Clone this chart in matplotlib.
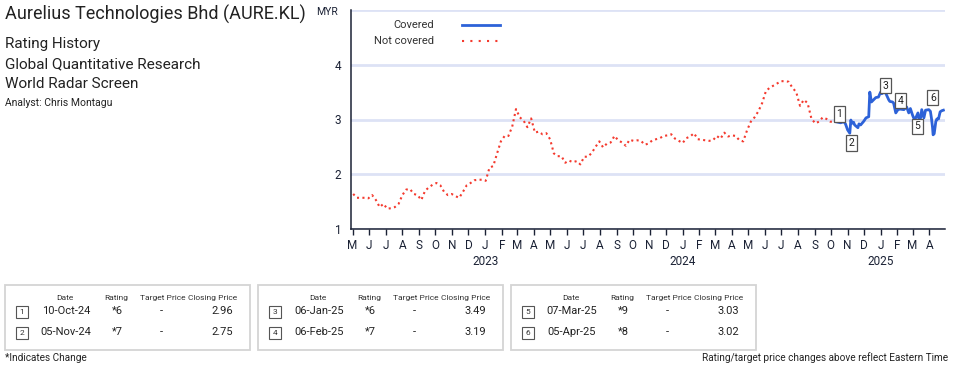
import matplotlib
matplotlib.use("Agg")
import matplotlib.pyplot as plt
from matplotlib.lines import Line2D
from matplotlib.patches import Rectangle
import pandas as pd

# weekly closes, not covered period (from 2022-05-02)
uncovered_start = "2022-05-02"
uncovered_close = [
    1.64, 1.57, 1.57, 1.57, 1.56, 1.62, 1.53, 1.40, 1.46, 1.37,
    1.38, 1.40, 1.46, 1.62, 1.72, 1.73, 1.64, 1.62, 1.53, 1.70,
    1.76, 1.81, 1.84, 1.80, 1.68, 1.62, 1.64, 1.60, 1.57, 1.68,
    1.80, 1.84, 1.89, 1.90, 1.90, 1.88, 2.12, 2.15, 2.38, 2.60,
    2.70, 2.70, 2.87, 3.19, 3.04, 2.98, 2.86, 3.02, 2.76, 2.78,
    2.73, 2.75, 2.64, 2.38, 2.33, 2.33, 2.21, 2.25, 2.22, 2.24,
    2.18, 2.32, 2.32, 2.39, 2.50, 2.60, 2.49, 2.56, 2.58, 2.70,
    2.62, 2.58, 2.52, 2.63, 2.61, 2.62, 2.61, 2.54, 2.56, 2.62,
    2.64, 2.66, 2.70, 2.71, 2.73, 2.65, 2.61, 2.57, 2.66, 2.69,
    2.75, 2.64, 2.63, 2.62, 2.61, 2.62, 2.70, 2.65, 2.76, 2.69,
    2.71, 2.70, 2.62, 2.60, 2.80, 2.96, 3.04, 3.15, 3.30, 3.52,
    3.58, 3.62, 3.66, 3.70, 3.70, 3.69, 3.58, 3.50, 3.25, 3.36,
    3.30, 3.02, 2.93, 2.96, 3.04, 3.01, 2.96,
]

# covered period
covered_dates = [
    "2024-10-10", "2024-10-19", "2024-10-25", "2024-10-28", "2024-11-01",
    "2024-11-05", "2024-11-07", "2024-11-09", "2024-11-12", "2024-11-14",
    "2024-11-20", "2024-11-22", "2024-11-25", "2024-12-01", "2024-12-05",
    "2024-12-10", "2024-12-12", "2024-12-15", "2024-12-19", "2024-12-23",
    "2024-12-28", "2025-01-01", "2025-01-03", "2025-01-06", "2025-01-10",
    "2025-01-16", "2025-01-18", "2025-01-23", "2025-01-25", "2025-01-29",
    "2025-02-02", "2025-02-06", "2025-02-13", "2025-02-18", "2025-02-22",
    "2025-02-25", "2025-03-01", "2025-03-03", "2025-03-07", "2025-03-11",
    "2025-03-13", "2025-03-16", "2025-03-18", "2025-03-22", "2025-03-25",
    "2025-03-31", "2025-04-03", "2025-04-05", "2025-04-07", "2025-04-08",
    "2025-04-10", "2025-04-13", "2025-04-15", "2025-04-18", "2025-04-21",
    "2025-04-24", "2025-04-27",
]
covered_close = [
    2.96, 2.94, 2.96, 2.92, 2.81,
    2.75, 2.99, 2.93, 2.95, 2.90,
    2.85, 2.92, 2.90, 2.97, 3.03,
    3.05, 3.50, 3.32, 3.36, 3.40,
    3.41, 3.50, 3.47, 3.49, 3.49,
    3.36, 3.33, 3.32, 3.30, 3.12,
    3.18, 3.19, 3.18, 3.23, 3.12,
    3.20, 3.08, 3.03, 3.03, 3.12,
    3.00, 3.03, 3.18, 3.03, 3.17,
    3.18, 3.15, 3.02, 2.85, 2.72,
    2.74, 2.96, 3.01, 3.01, 3.14,
    3.16, 3.17,
]

# rating changes
rating_dates = ["10-Oct-24", "05-Nov-24", "06-Jan-25", "06-Feb-25", "07-Mar-25", "05-Apr-25"]
ratings = ["*6", "*7", "*6", "*7", "*9", "*8"]
target_prices = ["-", "-", "-", "-", "-", "-"]
closing_prices = [2.96, 2.75, 3.49, 3.19, 3.03, 3.02]
# label offsets (points) for the numbered boxes on the chart
box_offsets = [(2.5, 5.5), (1.5, -7), (1.5, 5), (0.5, 6), (1, -6), (1, 15)]

W, H = 955, 365
plt.rcParams["font.family"] = ["Roboto", "DejaVu Sans"]

dark = "#1b2235"
txt_c = "#222222"
blue = "#2d62d8"
red = "#f43a2e"

fig = plt.figure(figsize=(W / 100, H / 100), dpi=100)
ax = fig.add_axes([351 / W, 1 - 229 / H, (945 - 351) / W, (229 - 10) / H])


def fx(x):
    return x / W


def fy(y):
    return 1 - y / H


u_dates = list(pd.date_range(uncovered_start, periods=len(uncovered_close), freq="7D"))
u_dates.append(pd.Timestamp(covered_dates[0]))
u_vals = uncovered_close + [covered_close[0]]
c_dates = pd.to_datetime(covered_dates)

ax.plot(u_dates, u_vals, color=red, lw=1.5, linestyle=(0, (1, 1.6)))
ax.plot(c_dates, covered_close, color=blue, lw=2.0, solid_joinstyle="round")

# numbered boxes at rating changes
for i, (d, p) in enumerate(zip(rating_dates, closing_prices)):
    dt = pd.to_datetime(d, format="%d-%b-%y")
    ax.annotate(str(i + 1), xy=(dt, p), xytext=box_offsets[i], textcoords="offset points",
                ha="center", va="center", fontsize=7.5, color=txt_c,
                bbox=dict(boxstyle="square,pad=0.25", fc="white", ec="#555555", lw=0.9))

ax.set_xlim(pd.Timestamp("2022-04-28"), pd.Timestamp("2025-04-30"))
ax.set_ylim(1, 5)
ax.set_yticks([1, 2, 3, 4, 5])
ax.set_yticklabels(["1", "2", "3", "4", ""])
ax.tick_params(axis="y", length=0, pad=7, labelsize=8.5, labelcolor=dark)
ax.grid(axis="y", color="#dde2f5", lw=2)
ax.set_axisbelow(True)

months = pd.date_range("2022-05-01", "2025-04-01", freq="MS")
ax.set_xticks(months)
ax.set_xticklabels([m.strftime("%b")[0] for m in months])
ax.tick_params(axis="x", direction="out", length=4, width=1, color=dark,
               labelsize=8.5, labelcolor=dark, pad=3)
for yr in ["2023", "2024", "2025"]:
    ax.text(pd.Timestamp(yr + "-01-01"), -0.15, yr, transform=ax.get_xaxis_transform(),
            ha="center", va="center", fontsize=8.5, color=dark)

for s in ["top", "right"]:
    ax.spines[s].set_visible(False)
for s in ["left", "bottom"]:
    ax.spines[s].set_color(dark)
    ax.spines[s].set_linewidth(1.1)

fig.text(fx(327), fy(12), "MYR", ha="center", va="center", fontsize=7.5, color=dark)

# legend
fig.text(fx(434), fy(25), "Covered", ha="right", va="center", fontsize=8, color="#333")
fig.text(fx(434), fy(41), "Not covered", ha="right", va="center", fontsize=8, color="#333")
fig.add_artist(Line2D([fx(462), fx(500)], [fy(25), fy(25)], color=blue, lw=2))
fig.add_artist(Line2D([fx(462), fx(500)], [fy(41), fy(41)], color=red, lw=1.5,
                      linestyle=(0, (1, 3))))

# header texts
fig.text(fx(5), fy(14), "Aurelius Technologies Bhd (AURE.KL)", ha="left", va="center",
         fontsize=13, color=txt_c)
for t, y in [("Rating History", 44), ("Global Quantitative Research", 64),
             ("World Radar Screen", 84)]:
    fig.text(fx(5), fy(y), t, ha="left", va="center", fontsize=11, color=txt_c)
fig.text(fx(5), fy(103), "Analyst: Chris Montagu", ha="left", va="center", fontsize=7.5, color=txt_c)

# rating tables
for b in range(3):
    x0 = 5 + b * 253
    fig.add_artist(Rectangle((fx(x0), fy(350)), 245 / W, 65 / H, transform=fig.transFigure,
                             fill=False, ec="#d4d4d4", lw=1.3))
    for t, dx in [("Date", 60), ("Rating", 111), ("Target Price", 158), ("Closing Price", 208)]:
        fig.text(fx(x0 + dx), fy(298), t, ha="center", va="center", fontsize=6, color="#333")
    for r in range(2):
        i = b * 2 + r
        y = 311 + r * 21
        fig.text(fx(x0 + 17), fy(y + 1), str(i + 1), ha="center", va="center", fontsize=6,
                 color="#333", bbox=dict(boxstyle="square,pad=0.4", fc="white", ec="#555", lw=0.8))
        fig.text(fx(x0 + 61), fy(y), rating_dates[i], ha="center", va="center", fontsize=8,
                 color=txt_c)
        fig.text(fx(x0 + 112), fy(y), ratings[i], ha="center", va="center", fontsize=8, color=txt_c)
        fig.text(fx(x0 + 156), fy(y), target_prices[i], ha="center", va="center", fontsize=8,
                 color=txt_c)
        fig.text(fx(x0 + 228), fy(y), f"{closing_prices[i]:.2f}", ha="right", va="center",
                 fontsize=8, color=txt_c)

fig.text(fx(5), fy(358), "*Indicates Change", ha="left", va="center", fontsize=7.2, color=txt_c)
fig.text(fx(948), fy(358), "Rating/target price changes above reflect Eastern Time",
         ha="right", va="center", fontsize=7.2, color=txt_c)

fig.savefig("out.png", dpi=100)
